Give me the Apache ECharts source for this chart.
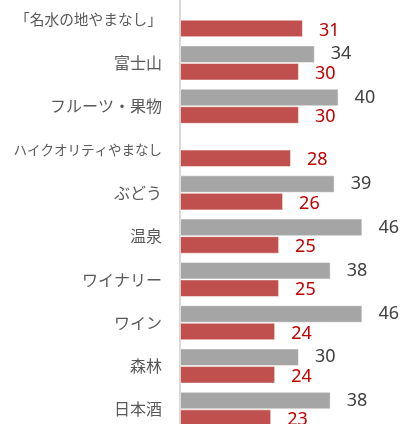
<!DOCTYPE html>
<html>
<head>
<meta charset="utf-8">
<script src="https://cdn.jsdelivr.net/npm/echarts@6/dist/echarts.min.js"></script>
<style>
  html, body { margin: 0; padding: 0; background: #fff; }
  #chart { width: 406px; height: 424px; }
</style>
</head>
<body>
<div id="chart"></div>
<script>
// カテゴリ（上から順）
var categories = ['「名水の地やまなし」', '富士山', 'フルーツ・果物', 'ハイクオリティやまなし', 'ぶどう', '温泉', 'ワイナリー', 'ワイン', '森林', '日本酒'];
// グレー系列（値なしは null）
var grayValues = [null, 34, 40, null, 39, 46, 38, 46, 30, 38];
// 赤系列
var redValues = [31, 30, 30, 28, 26, 25, 25, 24, 24, 23];

var labelFont = '"Noto Sans CJK JP", sans-serif';

var chart = echarts.init(document.getElementById('chart'));
var option = {
    animation: false,
    grid: {
        left: 180,
        right: 0,
        top: -2,
        bottom: -7,
        containLabel: false,
        outerBoundsMode: 'none'
    },
    xAxis: {
        type: 'value',
        min: 0,
        max: 57,
        show: false
    },
    yAxis: {
        type: 'category',
        inverse: true,
        data: categories,
        axisLine: {show: true, lineStyle: {color: '#d9d9d9', width: 2}},
        axisTick: {show: false},
        axisLabel: {
            margin: 18,
            fontSize: 16,
            color: '#595959',
            fontFamily: labelFont,
            // 長いラベルは少し小さく
            formatter: function (v) {
                if (v.length > 10) return '{s|' + v + '}';
                if (v.length > 9) return '{m|' + v + '}';
                return v;
            },
            rich: {
                m: {fontSize: 14.7, color: '#595959', fontFamily: labelFont},
                s: {fontSize: 13.5, color: '#595959', fontFamily: labelFont}
            }
        }
    },
    series: [
        {
            name: 'gray',
            type: 'bar',
            data: grayValues,
            barGap: '0%',
            barCategoryGap: '19%',
            itemStyle: {color: '#a5a5a5', borderColor: 'rgba(255,255,255,0.5)', borderWidth: 1},
            label: {
                show: true,
                position: 'right',
                distance: 16,
                fontSize: 18,
                color: '#404040',
                fontFamily: '"Noto Sans", sans-serif'
            }
        },
        {
            name: 'red',
            type: 'bar',
            data: redValues,
            barGap: '0%',
            barCategoryGap: '19%',
            itemStyle: {color: '#c0504d', borderColor: 'rgba(255,255,255,0.5)', borderWidth: 1},
            label: {
                show: true,
                position: 'right',
                distance: 16,
                offset: [0, 2],
                fontSize: 18,
                color: '#c00000',
                fontFamily: '"Noto Sans", sans-serif'
            }
        }
    ]
};
chart.setOption(option);
</script>
</body>
</html>
